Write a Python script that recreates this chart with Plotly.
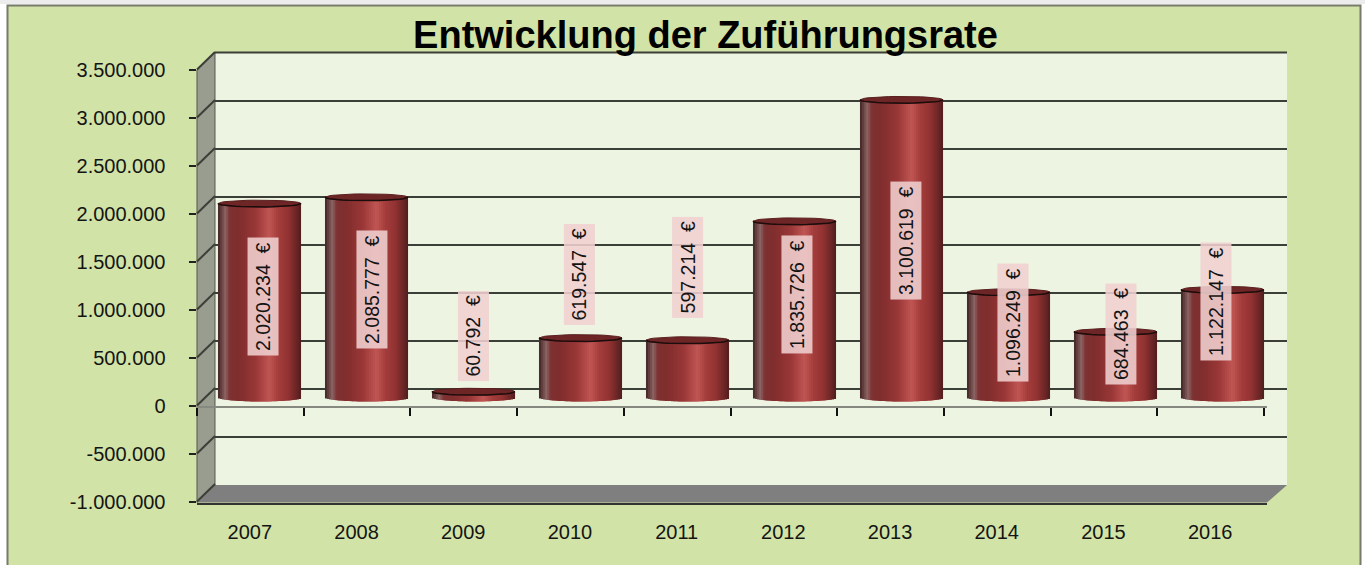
import math
import plotly.graph_objects as go

years = ["2007", "2008", "2009", "2010", "2011", "2012", "2013", "2014", "2015", "2016"]
values = [2020234, 2085777, 60792, 619547, 597214, 1835726, 3100619, 1096249, 684463, 1122147]
label_centers = [1047000, 1130000, 640000, 1286000, 1350000, 1078000, 1640000, 786000, 661000, 1005000]
label_shift = [0.033, 0.051, 0.0, -0.01, 0.0, 0.023, 0.042, 0.042, 0.051, -0.061]
y_ticks = [-1000000, -500000, 0, 500000, 1000000, 1500000, 2000000, 2500000, 3000000, 3500000]
y_tick_text = ["-1.000.000", "-500.000", "0", "500.000", "1.000.000", "1.500.000", "2.000.000",
               "2.500.000", "3.000.000", "3.500.000"]

W, H = 1365, 565
FONT = "Liberation Sans"
INK = "#141414"
GRID = "#3c3f38"


def px(x):
    return x / W


def py(y):
    return 1 - y / H


def ypix(v, zero=405.5):
    return zero - v * 96.0 / 1e6


# cylinder shading: (position across the width, colour)
stops = [(0.0, (62, 34, 34)), (0.05, (110, 72, 72)), (0.09, (140, 100, 100)), (0.14, (125, 50, 50)),
         (0.25, (128, 46, 46)), (0.45, (152, 54, 54)), (0.62, (192, 86, 84)), (0.72, (165, 62, 60)),
         (0.85, (145, 50, 50)), (0.95, (105, 36, 36)), (1.0, (78, 30, 30))]


def shade(u):
    for (a, ca), (b, cb) in zip(stops, stops[1:]):
        if a <= u <= b:
            t = (u - a) / (b - a)
            return "rgb(%d,%d,%d)" % tuple(round(p + (q - p) * t) for p, q in zip(ca, cb))
    return "rgb(78,30,30)"


fig = go.Figure()

# back wall axes (grid lines), cylinder axes (middle of depth), front axes (labels)
for sfx in ["", "3", "4"]:
    fig.add_trace(go.Scatter(x=[0], y=[0], mode="none", xaxis="x" + sfx, yaxis="y" + sfx,
                             hoverinfo="skip", showlegend=False))

xs = list(range(len(years)))
BAR_W = 0.776
STRIPS = 40
E = 4.0 * 1e6 / 96.0  # ellipse half height in data units
for i in range(STRIPS):
    u0, u1 = i / STRIPS, (i + 1) / STRIPS
    um = (u0 + u1) / 2
    drop = E * math.sqrt(max(0.0, 1 - (2 * um - 1) ** 2))
    span = 1 if i == STRIPS - 1 else 2
    fig.add_trace(go.Bar(
        x=xs, y=[v + drop for v in values], base=-drop,
        width=span * BAR_W / STRIPS, offset=-BAR_W / 2 + u0 * BAR_W,
        marker=dict(color=shade(um), line=dict(width=0)),
        xaxis="x2", yaxis="y2", hoverinfo="skip", showlegend=False))

# top caps of the cylinders
cap_x, cap_y, arc_x, arc_y = [], [], [], []
for c, v in zip(xs, values):
    for k in range(41):
        t = 2 * math.pi * k / 40
        cap_x.append(c + BAR_W / 2 * math.cos(t))
        cap_y.append(v + 0.85 * E * math.sin(t))
    cap_x.append(None)
    cap_y.append(None)
    for k in range(21):
        t = math.pi + math.pi * k / 20
        arc_x.append(c + BAR_W / 2 * math.cos(t))
        arc_y.append(v + 0.85 * E * math.sin(t))
    arc_x.append(None)
    arc_y.append(None)
fig.add_trace(go.Scatter(x=cap_x, y=cap_y, mode="lines", fill="toself", fillcolor="#6d2526",
                         line=dict(color="#5a2020", width=1), xaxis="x2", yaxis="y2",
                         hoverinfo="skip", showlegend=False))
fig.add_trace(go.Scatter(x=arc_x, y=arc_y, mode="lines", line=dict(color="#1c0c0c", width=1.5),
                         xaxis="x2", yaxis="y2", hoverinfo="skip", showlegend=False))

# zero plane axis with the category ticks
fig.add_trace(go.Scatter(x=[0], y=[0], mode="none", xaxis="x5", yaxis="y5",
                         hoverinfo="skip", showlegend=False))

shapes = [
    dict(type="rect", xref="paper", yref="paper", x0=0, x1=1, y0=py(4), y1=1,
         fillcolor="#ececec", line_width=0, layer="below"),
    dict(type="rect", xref="paper", yref="paper", x0=px(7.5), x1=px(1360.5), y0=py(570), y1=py(5.5),
         fillcolor="#d1e3a6", line=dict(color="#767b6b", width=2), layer="below"),
    # back wall
    dict(type="rect", xref="paper", yref="paper", x0=px(215), x1=px(1287), y0=py(485), y1=py(52.5),
         fillcolor="#edf4e2", line_width=0, layer="below"),
    # side wall
    dict(type="path", xref="paper", yref="paper", layer="below",
         path="M %f,%f L %f,%f L %f,%f L %f,%f Z" % (px(197), py(70), px(215), py(52.5), px(215), py(485), px(197), py(502.5)),
         fillcolor="#999d8f", line=dict(color="#55584e", width=1)),
    # floor
    dict(type="path", xref="paper", yref="paper", layer="below",
         path="M %f,%f L %f,%f L %f,%f L %f,%f Z" % (px(197), py(502.5), px(215), py(485), px(1287), py(485), px(1267), py(502.5)),
         fillcolor="#7f7f7f", line_width=0),
    # top edge of the back wall
    dict(type="line", xref="paper", yref="paper", x0=px(215), x1=px(1287), y0=py(52.5), y1=py(52.5),
         line=dict(color=GRID, width=2), layer="below"),
]
for v in y_ticks:
    shapes.append(dict(type="line", xref="paper", yref="paper", layer="below",
                       x0=px(197), y0=py(ypix(v)), x1=px(215), y1=py(ypix(v) - 17.5),
                       line=dict(color=GRID, width=2)))

annotations = [
    dict(xref="x2", yref="y2", x=c + dx, y=yc, text=f"{v:,}".replace(",", ".") + "  €",
         textangle=-90, showarrow=False, font=dict(family=FONT, size=19.5, color=INK),
         bgcolor="rgba(240,208,208,0.88)", borderpad=4)
    for c, v, yc, dx in zip(xs, values, label_centers, label_shift)
]

rng_x = [-0.5, 9.5]
rng_y = [-1000000, 3500000]
hidden = dict(visible=False, range=rng_x, fixedrange=True)


def xdom(a, b):
    return [px(a), px(b)]


def ydom(bottom, top):
    return [py(bottom), py(top)]


fig.update_layout(
    template="none",
    width=W, height=H, margin=dict(l=0, r=0, t=0, b=0, pad=0, autoexpand=False),
    paper_bgcolor="white", plot_bgcolor="rgba(0,0,0,0)",
    separators=",.", barmode="overlay", showlegend=False,
    title=dict(text="<b>Entwicklung der Zuführungsrate</b>", x=px(705.5), y=py(35),
               xanchor="center", yanchor="middle", xref="paper", yref="paper",
               font=dict(family=FONT, size=38, color="#000000")),
    # back wall
    xaxis=dict(domain=xdom(215, 1287), range=rng_x, anchor="y", visible=False, fixedrange=True),
    yaxis=dict(domain=ydom(485, 53), range=rng_y, anchor="x", tickvals=y_ticks, showgrid=True,
               gridcolor=GRID, gridwidth=2, showticklabels=False, ticks="", zeroline=False,
               showline=False, fixedrange=True),
    # cylinders
    xaxis2=dict(domain=xdom(206, 1276), anchor="y2", **hidden),
    yaxis2=dict(domain=ydom(493.5, 61.5), range=rng_y, anchor="x2", visible=False, fixedrange=True),
    # front plane: value labels, category labels
    xaxis3=dict(domain=xdom(196.5, 1263.5), range=rng_x, anchor="y3", tickvals=xs, ticktext=years,
                ticks="", showline=False, showgrid=False, zeroline=False, ticklabelstandoff=16,
                tickfont=dict(family=FONT, size=20, color=INK), fixedrange=True),
    yaxis3=dict(domain=ydom(502, 70), range=rng_y, anchor="x3", tickvals=y_ticks, ticktext=y_tick_text,
                ticks="outside", ticklen=7, tickwidth=2, tickcolor="#222222", showgrid=False,
                zeroline=False, showline=False, ticklabelstandoff=19,
                tickfont=dict(family=FONT, size=20, color=INK), fixedrange=True),
    # bottom front edge (runs a little past the last category)
    xaxis4=dict(domain=xdom(197, 1267), range=rng_x, anchor="y4", visible=True, showline=True,
                linecolor="#333333", linewidth=2, ticks="", showticklabels=False, showgrid=False,
                zeroline=False, fixedrange=True),
    yaxis4=dict(domain=ydom(503, 70), range=rng_y, anchor="x4", visible=False, fixedrange=True),
    # zero plane with category ticks
    xaxis5=dict(domain=xdom(197, 1267), range=[-0.5, 9.528], anchor="y5", showline=True, linecolor="#858980",
                linewidth=2, ticks="outside", ticklen=8, tickwidth=2, tickcolor="#111111",
                tickvals=[x - 0.5 for x in range(len(years) + 1)], showticklabels=False,
                showgrid=False, zeroline=False, fixedrange=True),
    yaxis5=dict(domain=ydom(405.5, 70), range=[0, 1], anchor="x5", visible=False, fixedrange=True),
    shapes=shapes,
    annotations=annotations,
)

fig.write_html("out.html", config={"displayModeBar": False},
               post_script="document.body.style.margin='0';document.body.style.overflow='hidden';")
